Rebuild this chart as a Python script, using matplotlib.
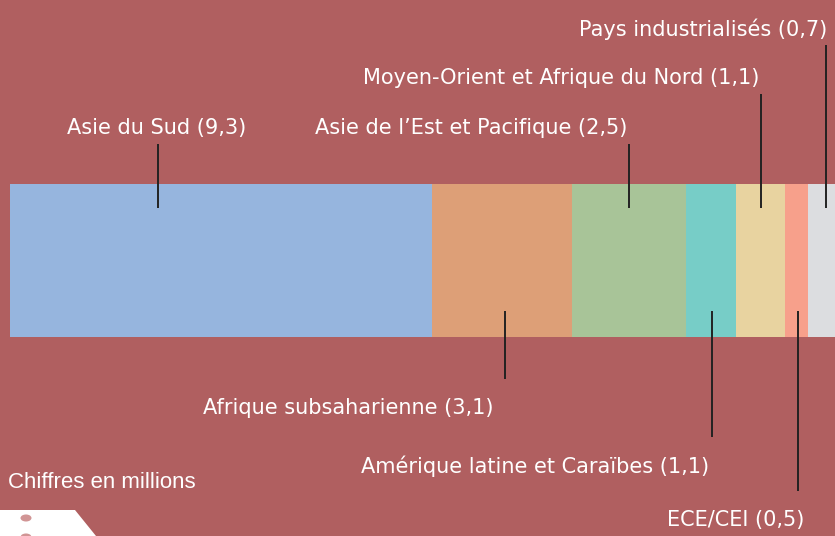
import numpy as np
import matplotlib
matplotlib.use('Agg')
import matplotlib.pyplot as plt
from matplotlib.patches import Polygon, Circle

# Data (millions)
regions = ['Asie du Sud', 'Afrique subsaharienne', "Asie de l\u2019Est et Pacifique",
           'Amérique latine et Caraïbes', 'Moyen-Orient et Afrique du Nord',
           'ECE/CEI', 'Pays industrialisés']
values = [9.3, 3.1, 2.5, 1.1, 1.1, 0.5, 0.7]
value_labels = ['9,3', '3,1', '2,5', '1,1', '1,1', '0,5', '0,7']

colors = ['#96b5de', '#dd9f77', '#a8c498', '#77cdc7', '#e8d3a0', '#f7a08b', '#dcdde0']
bg = '#b05f60'

# label placement (pixel y, text x, alignment, above/below bar, leader x offset within segment)
label_pos = [
    (128, 157, 'center', 'top', 0.35),
    (408, 348, 'center', 'bottom', 0.52),
    (128, 471, 'center', 'top', 0.50),
    (466, 535, 'center', 'bottom', 0.52),
    (78, 561, 'center', 'top', 0.50),
    (520, 736, 'center', 'bottom', 0.55),
    (29, 827, 'right', 'top', 0.55),
]

px_per_unit = 45.35
x0 = 10
W, H = 835, 536

fig = plt.figure(figsize=(W / 100, H / 100), dpi=100, facecolor=bg)
ax = fig.add_axes([0, 0, 1, 1])
ax.set_facecolor(bg)
ax.set_xlim(-x0 / px_per_unit, (W - x0) / px_per_unit)
ax.set_ylim(H, 0)
ax.axis('off')

bar_top, bar_bot = 184, 337
lefts = np.concatenate([[0], np.cumsum(values)[:-1]])
ax.barh((bar_top + bar_bot) / 2, values, left=lefts, height=bar_bot - bar_top,
        color=colors, linewidth=0)

font = ['Liberation Sans Narrow', 'DejaVu Sans']
for i, name in enumerate(regions):
    ty, tx, ha, side, frac = label_pos[i]
    lx = lefts[i] + values[i] * frac
    if side == 'top':
        ax.plot([lx, lx], [ty + 16, bar_top + 24], color='#222222', lw=1.4, solid_capstyle='butt')
    else:
        ax.plot([lx, lx], [bar_bot - 26, ty - 29], color='#222222', lw=1.4, solid_capstyle='butt')
    ax.text((tx - x0) / px_per_unit, ty, f'{name} ({value_labels[i]})', ha=ha, va='center',
            color='white', fontsize=15, family=font)

ax.text(8 / W, 1 - 482 / H, 'Chiffres en millions', transform=ax.transAxes, ha='left',
        va='center', color='white', fontsize=16, family=['Liberation Sans', 'DejaVu Sans'])

# corner decoration
fig.patches.append(Polygon([[0, 0], [96 / W, 0], [75 / W, 1 - 510 / H], [0, 1 - 510 / H]],
                           closed=True, transform=fig.transFigure, facecolor='white',
                           edgecolor='none'))
for cy in (518, 537):
    fig.patches.append(Circle((26 / W, 1 - cy / H), 5.5 / W, transform=fig.transFigure,
                              facecolor='#d19595', edgecolor='none'))

fig.savefig('out.png', dpi=100, facecolor=bg)
